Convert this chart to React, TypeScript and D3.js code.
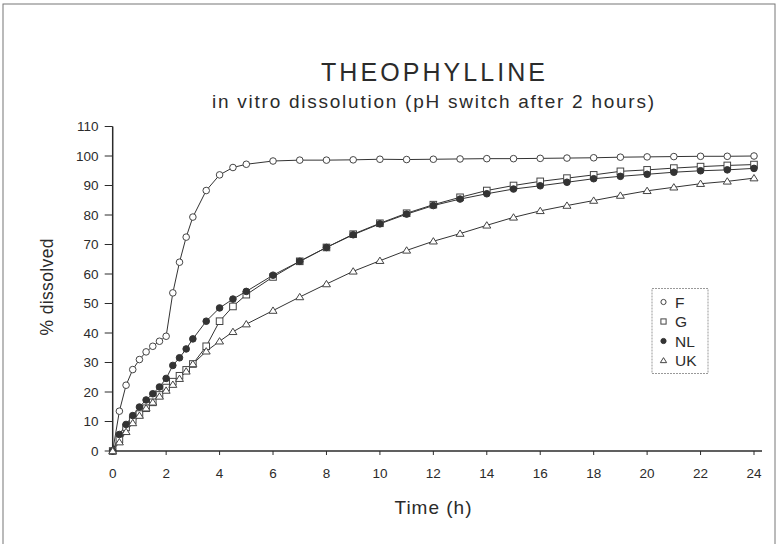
import React from "react";
import * as d3 from "d3";

const times = [0, 0.25, 0.5, 0.75, 1, 1.25, 1.5, 1.75, 2, 2.25, 2.5, 2.75, 3, 3.5, 4, 4.5, 5,
  6, 7, 8, 9, 10, 11, 12, 13, 14, 15, 16, 17, 18, 19, 20, 21, 22, 23, 24];

const seriesF = [0, 13.5, 22.3, 27.6, 31, 33.6, 35.5, 37.2, 38.9, 53.6, 64, 72.5, 79.3, 88.3, 93.6, 96.1, 97.2,
  98.3, 98.6, 98.6, 98.7, 98.9, 98.8, 98.9, 99, 99.1, 99.1, 99.2, 99.3, 99.4, 99.6, 99.7, 99.8, 99.9, 99.9, 100];
const seriesG = [0, 4, 8, 10.5, 12.5, 14.5, 16.5, 19, 21.5, 23.5, 25.5, 27.5, 29.5, 35.5, 44, 49, 53,
  59, 64.3, 69, 73.5, 77.2, 80.6, 83.5, 86, 88.3, 90, 91.4, 92.5, 93.6, 94.8, 95.3, 95.9, 96.4, 96.8, 97.1];
const seriesNL = [0, 5.6, 9, 12, 14.9, 17.3, 19.4, 21.7, 24.6, 29, 31.6, 34.6, 38, 44, 48.5, 51.5, 54.1,
  59.6, 64.3, 69, 73.3, 77, 80.3, 83.2, 85.4, 87.2, 88.8, 89.9, 91.1, 92.3, 93.1, 93.8, 94.5, 95, 95.3, 95.8];
const seriesUK = [0, 3, 6.5, 9.5, 12, 14.5, 16.5, 18.5, 20.5, 22.5, 24.5, 27, 29.5, 33.8, 37.2, 40.4, 43,
  47.6, 52.2, 56.6, 60.9, 64.5, 68, 71.1, 73.7, 76.5, 79.2, 81.4, 83.2, 84.9, 86.6, 88.2, 89.4, 90.6, 91.4, 92.5];

const seriesNames = ["F", "G", "NL", "UK"];
const xTicks = [0, 2, 4, 6, 8, 10, 12, 14, 16, 18, 20, 22, 24];
const yTicks = [0, 10, 20, 30, 40, 50, 60, 70, 80, 90, 100, 110];

const INK = "#2b2b2b";
const FONT = "'Liberation Sans', Arial, sans-serif";

function Marker({ kind, x, y, s }: { kind: string; x: number; y: number; s: number }) {
  if (kind === "F") return <circle cx={x} cy={y} r={s} fill="#fff" stroke="#444" strokeWidth={1} />;
  if (kind === "NL") return <circle cx={x} cy={y} r={s} fill="#333" stroke="#333" strokeWidth={1} />;
  if (kind === "G")
    return <rect x={x - s} y={y - s} width={2 * s} height={2 * s} fill="#fff" stroke="#444" strokeWidth={1} />;
  const h = s * 1.1;
  return (
    <path
      d={`M${x},${y - h} L${x + h * 1.1},${y + h * 0.75} L${x - h * 1.1},${y + h * 0.75} Z`}
      fill="#fff"
      stroke="#444"
      strokeWidth={1}
    />
  );
}

export default function App() {
  const W = 778, H = 544;
  const x = d3.scaleLinear().domain([0, 24]).range([112.7, 754]);
  const y = d3.scaleLinear().domain([0, 110]).range([451, 126.5]);
  const all = [seriesF, seriesG, seriesNL, seriesUK];
  const line = d3.line<number>().x((_, i) => x(times[i])).y((d) => y(d));

  return (
    <svg width={W} height={H} style={{ position: "absolute", left: 0, top: 0, background: "#fff" }}>
      <rect x={0} y={0} width={W} height={H} fill="#fff" />
      <rect x={3} y={4} width={772} height={600} fill="none" stroke="#777" strokeWidth={1} />
      <text x={433} y={81} textAnchor="middle" fontFamily={FONT} fontSize={25} fill={INK}
        textLength={224} lengthAdjust="spacing">THEOPHYLLINE</text>
      <text x={433} y={108} textAnchor="middle" fontFamily={FONT} fontSize={19} fill={INK}
        textLength={442} lengthAdjust="spacing">in vitro dissolution (pH switch after 2 hours)</text>

      {/* axes */}
      <line x1={x(0)} x2={762} y1={y(0)} y2={y(0)} stroke={INK} strokeWidth={1.5} />
      <line x1={x(0)} x2={x(0)} y1={y(0)} y2={y(110)} stroke={INK} strokeWidth={1.5} />
      {yTicks.map((t) => (
        <g key={"y" + t}>
          <line x1={x(0) - 8} x2={x(0)} y1={y(t)} y2={y(t)} stroke={INK} strokeWidth={1} />
          <text x={98.5} y={y(t) + 4.8} textAnchor="end" fontFamily={FONT} fontSize={13.5} fill={INK}>{t}</text>
        </g>
      ))}
      {xTicks.map((t) => (
        <g key={"x" + t}>
          <line x1={x(t)} x2={x(t)} y1={y(0)} y2={y(0) + 4} stroke={INK} strokeWidth={1} />
          <text x={x(t)} y={478} textAnchor="middle" fontFamily={FONT} fontSize={13.5} fill={INK}>{t}</text>
        </g>
      ))}
      <text transform="translate(53,287) rotate(-90)" textAnchor="middle" fontFamily={FONT} fontSize={17.5}
        fill={INK} textLength={97} lengthAdjust="spacing">% dissolved</text>
      <text x={433} y={514} textAnchor="middle" fontFamily={FONT} fontSize={19} fill={INK}
        textLength={77} lengthAdjust="spacing">Time (h)</text>

      {/* lines */}
      {all.map((s, k) => (
        <path key={"l" + k} d={line(s) || ""} fill="none" stroke="#333" strokeWidth={1} />
      ))}
      {/* markers */}
      {all.map((s, k) => (
        <g key={"m" + k}>
          {s.map((v, i) => (
            <Marker key={i} kind={seriesNames[k]} x={x(times[i])} y={y(v)} s={3.3} />
          ))}
        </g>
      ))}

      {/* legend */}
      <rect x={652} y={288.5} width={56} height={85} fill="#fff" stroke="#999" strokeWidth={1} strokeDasharray="2,1" />
      {seriesNames.map((n, i) => (
        <g key={"lg" + n}>
          <Marker kind={n} x={663.5} y={302 + i * 19.5} s={2.6} />
          <text x={675} y={307.5 + i * 19.5} fontFamily={FONT} fontSize={15.5} fill={INK}>{n}</text>
        </g>
      ))}
    </svg>
  );
}
